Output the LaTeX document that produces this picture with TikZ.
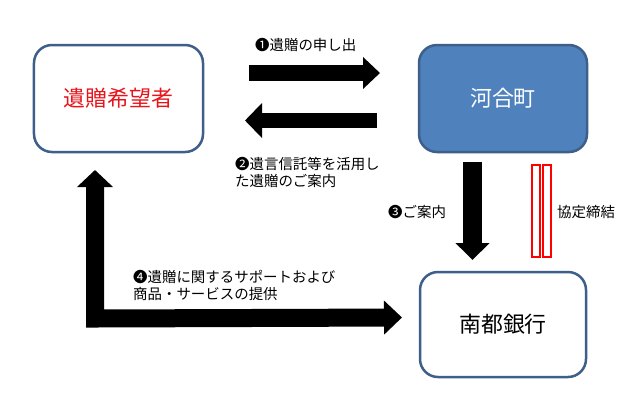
\documentclass[tikz,border=0pt]{standalone}
\usepackage{fontspec}
\setmainfont{Noto Sans CJK JP}
\usetikzlibrary{arrows.meta}
\definecolor{boxline}{HTML}{3E5F8A}
\definecolor{boxfill}{HTML}{4F81BD}
\definecolor{redtxt}{HTML}{E8141C}
\begin{document}
\begin{tikzpicture}[x=1bp,y=-1bp,
  party/.style={draw=boxline, line width=2.5bp, rounded corners=18bp, font=\fontsize{22}{26}\selectfont, inner sep=0pt},
  lbl/.style={font=\fontsize{14.5}{17}\selectfont, inner sep=0pt, align=left},
  blk/.style={line width=#1, line cap=butt, line join=miter},
  agreement/.style={draw=red, line width=2bp, fill=white}]
\useasboundingbox (0,0) rectangle (635,401);
\fill[white] (0,0) rectangle (635,401);
% parties
\node[party, minimum width=169bp, minimum height=107bp, text=redtxt] (A) at (118.5,98.5) {遺贈希望者};
\node[party, minimum width=168bp, minimum height=107bp, fill=boxfill, text=white] (K) at (503,98.5) {河合町};
\node[party, minimum width=166bp, minimum height=105bp] (N) at (503,324.5) {南都銀行};
% arrow 1
\coordinate (a1s) at (249,73); \coordinate (a1e) at (380,73);
\draw[blk=16bp, -{Triangle[width=31bp,length=17bp]}] (a1s) -- (a1e);
% arrow 2
\coordinate (a2s) at (377,120.5); \coordinate (a2e) at (245,120.5);
\draw[blk=15bp, -{Triangle[width=34bp,length=17bp]}] (a2s) -- (a2e);
% arrow 3
\coordinate (a3s) at (472.5,162); \coordinate (a3e) at (472.5,260);
\draw[blk=19bp, -{Triangle[width=33bp,length=17bp]}] (a3s) -- (a3e);
% arrow 4
\coordinate (a4e) at (402,317.5); \coordinate (a4c) at (95,317.5); \coordinate (a4t) at (95,170);
\draw[blk=18bp, {Triangle[width=35bp,length=17bp]}-{Triangle[width=33bp,length=18bp]}] (a4t) -- ([yshift=-1bp]a4c) -- (a4e);
% agreement lines
\draw[agreement] (532,165) rectangle (540,257);
\draw[agreement] (543,165) rectangle (551,257);
% labels
\node[lbl, anchor=west] (l1) at (255,45) {❶遺贈の申し出};
\node[lbl, anchor=north west] (l2) at (235,157) {❷遺言信託等を活用し\\た遺贈のご案内};
\node[lbl, anchor=west] (l3) at (388,212) {❸ご案内};
\node[lbl, anchor=west] (l3b) at (557,212) {協定締結};
\node[lbl, anchor=north west] (l4) at (133,270) {❹遺贈に関するサポートおよび\\商品・サービスの提供};
\end{tikzpicture}
\end{document}
